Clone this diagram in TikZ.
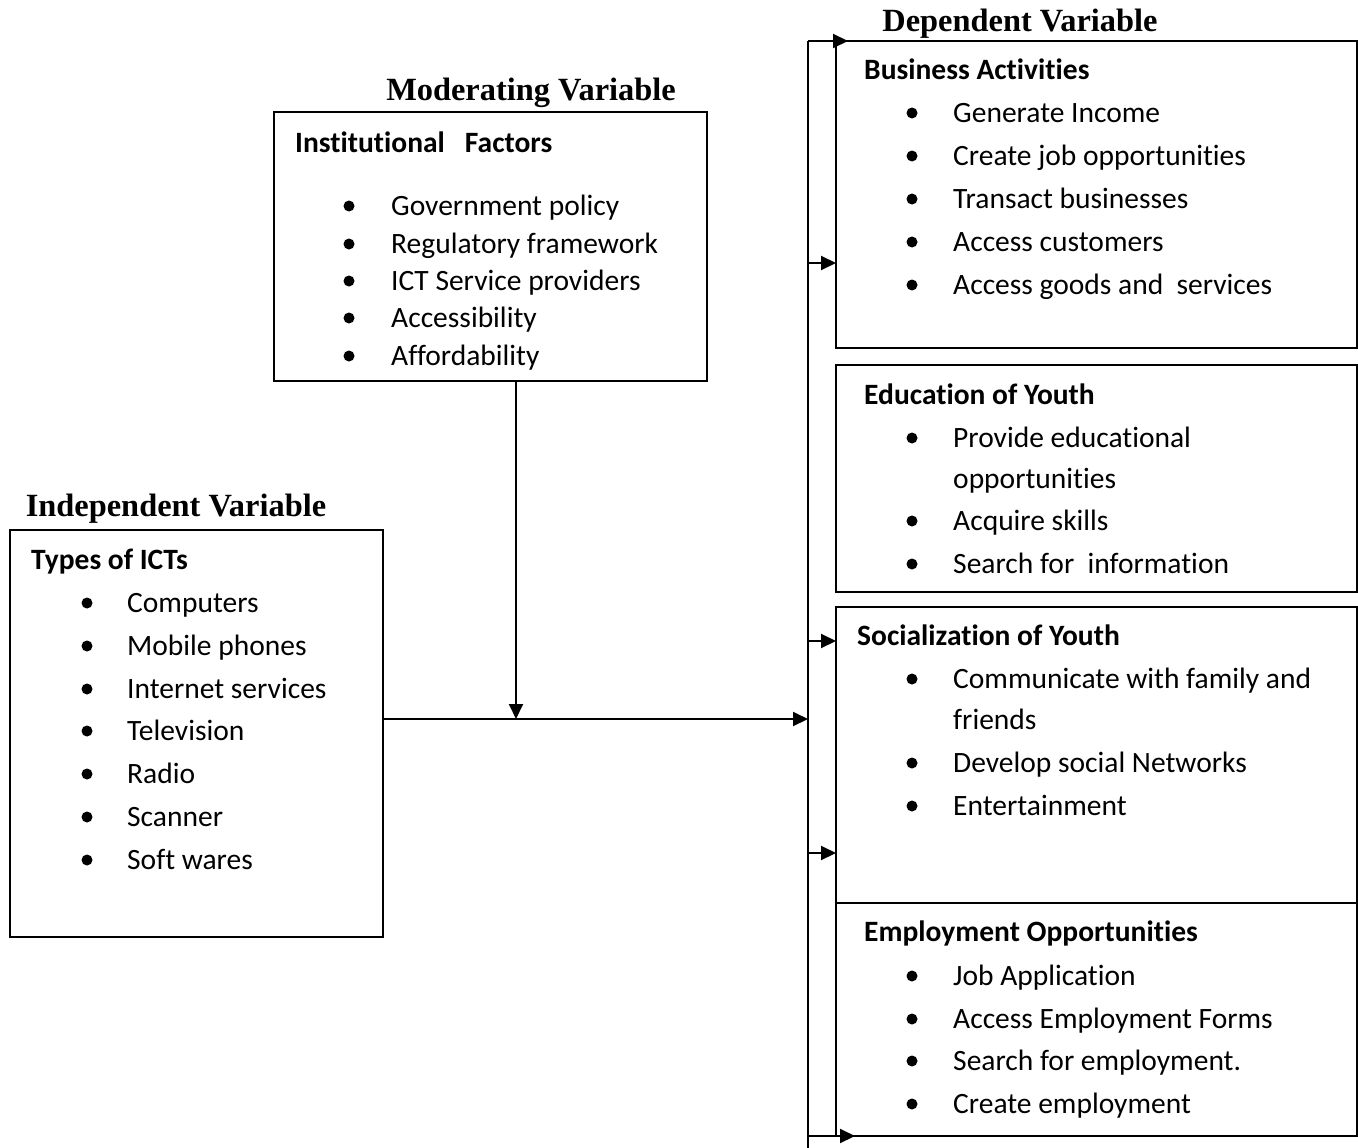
\documentclass[tikz,border=0pt]{standalone}
\usepackage{fontspec}
\setmainfont[Ligatures=NoCommon]{Carlito}
\newfontfamily\headfont{Liberation Serif}
\usetikzlibrary{arrows.meta}

\tikzset{
  box/.style={draw, line width=1.5pt, anchor=north west, inner sep=0pt, outer sep=0pt},
  title/.style={font=\headfont\bfseries\fontsize{32.4}{38}\selectfont, anchor=base, inner sep=0pt},
  head/.style={font=\bfseries\fontsize{29.5}{34}\selectfont, anchor=base west, inner sep=0pt},
  item/.style={font=\fontsize{29.5}{34}\selectfont, anchor=base west, inner sep=0pt},
  dot/.style={circle, fill, inner sep=0pt, minimum size=11pt},
  link/.style={line width=2pt, -{Triangle[length=15pt,width=14pt]}},
}

\begin{document}
\begin{tikzpicture}[x=1pt, y=-1pt]
  \useasboundingbox (0,0) rectangle (1358,1148);

  % titles
  \node[title] (modtitle) at (531,100) {Moderating Variable};
  \node[title] (deptitle) at (1020,32) {Dependent Variable};
  \node[title] (indtitle) at (176,516) {Independent Variable};

  % boxes
  \node[box, minimum width=433pt, minimum height=269pt] (mod) at (274,112) {};
  \node[box, minimum width=373pt, minimum height=407pt] (ict) at (10,530) {};
  \node[box, minimum width=521pt, minimum height=307pt] (dep1) at (836,41) {};
  \node[box, minimum width=521pt, minimum height=227pt] (dep2) at (836,365) {};
  \node[box, minimum width=521pt, minimum height=296pt] (dep3) at (836,607) {};
  \node[box, minimum width=521pt, minimum height=233pt] (dep4) at (836,903) {};

  % moderating variable
  \node[head] (modhead) at (295,152) {Institutional\ \ \ Factors};
  \foreach \y/\t in {206/Government policy, 244/Regulatory framework,
      281/ICT Service providers, 318/Accessibility, 356/Affordability} {
    \node[dot] (md\y) at (349,\y) {};
    \node[item] (mt\y) at (391,\y+9) {\t};
  }

  % independent variable
  \node[head] (icthead) at (31,569) {Types of ICTs};
  \foreach \y/\t in {603/Computers, 646/Mobile phones, 689/Internet services,
      731/Television, 774/Radio, 817/Scanner, 860/Soft wares} {
    \node[dot] (id\y) at (87,\y) {};
    \node[item] (it\y) at (127,\y+9) {\t};
  }

  % dependent variable
  \node[head] (dephead1) at (864,80) {Business Activities};
  \foreach \y/\t in {113/Generate Income, 156/Create job opportunities,
      199/Transact businesses, 242/Access customers,
      285/Access goods and\ \ services} {
    \node[dot] (ad\y) at (912,\y) {};
    \node[item] (at\y) at (953,\y+9) {\t};
  }
  \node[head] (dephead2) at (864,404) {Education of Youth};
  \foreach \y/\t in {438/Provide educational, 521/Acquire skills,
      564/Search for\ \ information} {
    \node[dot] (bd\y) at (912,\y) {};
    \node[item] (bt\y) at (953,\y+9) {\t};
  }
  \node[item] (bt479) at (953,488) {opportunities};
  \node[head] (dephead3) at (857,645) {Socialization of Youth};
  \foreach \y/\t in {679/Communicate with family and,
      763/Develop social Networks, 806/Entertainment} {
    \node[dot] (cd\y) at (912,\y) {};
    \node[item] (ct\y) at (953,\y+9) {\t};
  }
  \node[item] (ct720) at (953,729) {friends};
  \node[head] (dephead4) at (864,941) {Employment Opportunities};
  \foreach \y/\t in {976/Job Application, 1019/Access Employment Forms,
      1061/Search for employment., 1104/Create employment} {
    \node[dot] (dd\y) at (912,\y) {};
    \node[item] (dt\y) at (953,\y+9) {\t};
  }

  % connectors
  \coordinate (bustop) at (808,41);
  \coordinate (busbot) at (808,1148);
  \coordinate (busend) at (808,1136);
  \coordinate (busjoin) at (808,719);
  \coordinate (junc) at (516,719);
  \draw[line width=2pt] (bustop) -- (busbot);
  \draw[link] (bustop) -- ([xshift=12pt]dep1.north west);
  \draw[link] (busend) -- ([xshift=19pt]dep4.south west);
  \foreach \y in {263,641,853} {
    \coordinate (tap\y) at (808,\y);
    \draw[link] (tap\y) -- (tap\y -| dep1.west);
  }
  \draw[link] (mod.south -| junc) -- (junc);
  \draw[link] (ict.east |- junc) -- (busjoin);
\end{tikzpicture}
\end{document}
